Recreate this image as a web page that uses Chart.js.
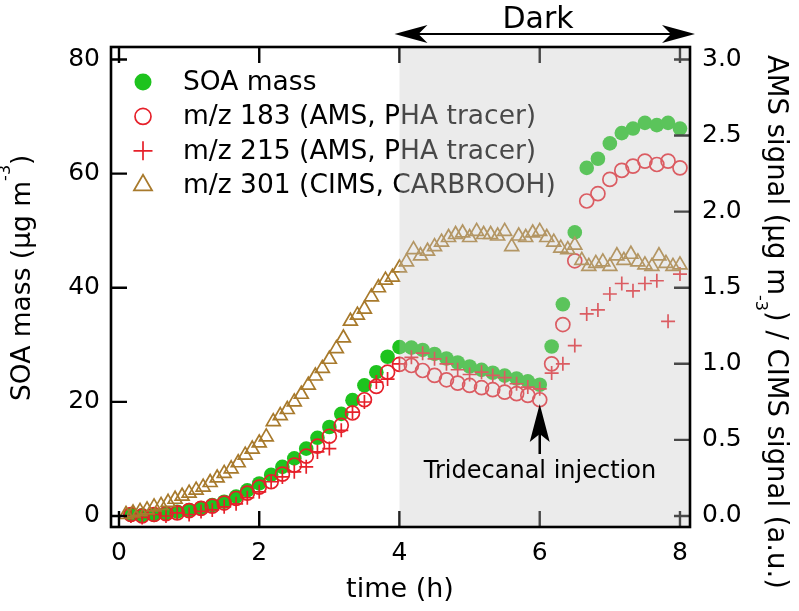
<!DOCTYPE html>
<html><head><meta charset="utf-8">
<script src="https://cdn.jsdelivr.net/npm/chart.js@4/dist/chart.umd.min.js"></script>
<style>html,body{margin:0;padding:0;background:#fff}canvas{display:block}</style>
</head><body>
<canvas id="c" width="799" height="611"></canvas>
<script>
// ---- data ----
const amsTimes = [0.17,0.33,0.5,0.67,0.83,1.0,1.17,1.33,1.5,1.67,1.83,2.0,2.17,2.33,2.5,2.67,2.83,3.0,3.17,3.33,3.5,3.67,3.83,4.0,4.17,4.33,4.5,4.67,4.83,5.0,5.17,5.33,5.5,5.67,5.83,6.0,6.17,6.33,6.5,6.67,6.83,7.0,7.17,7.33,7.5,7.67,7.83,8.0];
const soaMass = [0.2,0.1,0.2,0.5,0.75,1.05,1.4,1.9,2.5,3.4,4.5,5.7,7.2,8.6,10.1,11.8,13.7,15.6,17.9,20.3,22.9,25.2,27.9,29.6,29.5,29.1,28.4,27.6,26.9,26.2,25.6,25.1,24.6,24.1,23.6,23.0,29.7,37.1,49.7,61.0,62.6,65.3,67.1,67.9,68.9,68.5,68.9,67.9];
const mz183 = [0.01,0.0,0.01,0.015,0.02,0.035,0.05,0.065,0.085,0.115,0.15,0.19,0.225,0.275,0.334,0.393,0.459,0.524,0.596,0.677,0.764,0.852,0.945,0.996,0.989,0.956,0.924,0.895,0.873,0.858,0.843,0.830,0.814,0.804,0.793,0.764,1.0,1.258,1.677,2.07,2.118,2.212,2.271,2.299,2.332,2.31,2.332,2.288];
const mz215 = [0.0,-0.01,0.01,0.0,0.02,0.01,0.03,0.04,0.06,0.08,0.12,0.159,0.225,0.257,0.29,0.323,0.421,0.443,0.563,0.683,0.749,0.88,0.90,1.0,1.043,1.07,1.033,1.0,0.961,0.93,0.945,0.924,0.909,0.869,0.847,0.836,0.939,1.0,1.12,1.328,1.354,1.459,1.528,1.48,1.528,1.546,1.279,1.59];
const cimsTimes = [0.1,0.2,0.3,0.4,0.5,0.6,0.7,0.8,0.9,1.0,1.1,1.2,1.3,1.4,1.5,1.6,1.7,1.8,1.9,2.0,2.1,2.2,2.3,2.4,2.5,2.6,2.7,2.8,2.9,3.0,3.1,3.2,3.3,3.4,3.5,3.6,3.7,3.8,3.9,4.0,4.1,4.2,4.3,4.4,4.5,4.6,4.7,4.8,4.9,5.0,5.1,5.2,5.3,5.4,5.5,5.6,5.7,5.8,5.9,6.0,6.1,6.2,6.3,6.4,6.5,6.6,6.7,6.8,6.9,7.0,7.1,7.2,7.3,7.4,7.5,7.6,7.7,7.8,7.9,8.0];
const mz301 = [0.01,0.02,0.03,0.04,0.06,0.07,0.09,0.11,0.13,0.15,0.17,0.19,0.22,0.25,0.28,0.31,0.35,0.40,0.44,0.48,0.52,0.62,0.66,0.70,0.75,0.80,0.86,0.92,0.97,1.03,1.10,1.17,1.28,1.32,1.36,1.44,1.50,1.55,1.57,1.63,1.67,1.75,1.71,1.74,1.77,1.80,1.83,1.85,1.86,1.83,1.87,1.85,1.85,1.84,1.87,1.77,1.84,1.83,1.86,1.87,1.83,1.80,1.76,1.75,1.78,1.68,1.64,1.66,1.67,1.64,1.71,1.68,1.72,1.67,1.65,1.64,1.71,1.66,1.64,1.65];
const seriesNames = ['SOA mass','m/z 183 (AMS, PHA tracer)','m/z 215 (AMS, PHA tracer)','m/z 301 (CIMS, CARBROOH)'];
const xTicks = [0,2,4,6,8];
const yLeftTicks = [0,20,40,60,80];
const yRightTicks = [0,0.5,1.0,1.5,2.0,2.5,3.0];
const darkStart = 4;
const injectionTime = 6;
const darkLabel = 'Dark';
const injectionLabel = 'Tridecanal injection';
const xTitle = 'time (h)';

// ---- styles ----
const FONT = "'DejaVu Sans', 'Liberation Sans', Arial, sans-serif";
const GREEN = '#1ec31e', RED = '#e6202a', BROWN = '#a87a2c';

function pts(xs, ys) { return xs.map((x, i) => ({x: x, y: ys[i]})); }

function marker(ctx, kind, x, y, r, color) {
  ctx.save();
  ctx.lineWidth = 1.7;
  ctx.strokeStyle = color; ctx.fillStyle = color;
  ctx.beginPath();
  if (kind === 'dot') { ctx.arc(x, y, r, 0, Math.PI * 2); ctx.fill(); }
  else if (kind === 'circle') { ctx.arc(x, y, r, 0, Math.PI * 2); ctx.stroke(); }
  else if (kind === 'cross') { ctx.moveTo(x - r, y); ctx.lineTo(x + r, y); ctx.moveTo(x, y - r); ctx.lineTo(x, y + r); ctx.stroke(); }
  else if (kind === 'tri') {
    for (let k = 0; k < 3; k++) {
      const a = k * 2 * Math.PI / 3;
      const px = x + Math.sin(a) * r, py = y - Math.cos(a) * r;
      if (k === 0) ctx.moveTo(px, py); else ctx.lineTo(px, py);
    }
    ctx.closePath(); ctx.stroke();
  }
  ctx.restore();
}

function rich(ctx, parts) {
  let x = 0;
  parts.forEach(p => {
    ctx.font = p.size + 'px ' + FONT;
    ctx.fillText(p.t, x, p.dy || 0);
    x += ctx.measureText(p.t).width;
  });
}

const decor = {
  id: 'decor',
  afterDatasetsDraw(chart) {
    const ctx = chart.ctx, a = chart.chartArea;
    const xs = chart.scales.x, yl = chart.scales.y, yr = chart.scales.y2;
    ctx.save();
    // inner tick marks on all four sides
    const TL = 16;
    ctx.strokeStyle = '#000'; ctx.lineWidth = 2.4;
    ctx.beginPath();
    xTicks.forEach(v => {
      const px = xs.getPixelForValue(v);
      ctx.moveTo(px, a.bottom); ctx.lineTo(px, a.bottom - TL);
      ctx.moveTo(px, a.top); ctx.lineTo(px, a.top + TL);
    });
    yLeftTicks.forEach(v => { const py = yl.getPixelForValue(v); ctx.moveTo(a.left, py); ctx.lineTo(a.left + TL, py); });
    yRightTicks.forEach(v => { const py = yr.getPixelForValue(v); ctx.moveTo(a.right, py); ctx.lineTo(a.right - TL, py); });
    ctx.stroke();

    // legend inside plot
    const kinds = [['dot', 8.5, GREEN], ['circle', 8, RED], ['cross', 9.5, RED], ['tri', 10.5, BROWN]];
    ctx.font = '26.5px ' + FONT;
    ctx.textBaseline = 'middle';
    ctx.textAlign = 'left';
    kinds.forEach((k, i) => {
      const yy = 82 + i * 34.4;
      marker(ctx, k[0], 143, yy, k[1], k[2]);
      ctx.fillStyle = '#000';
      ctx.fillText(seriesNames[i], 183, yy + 1);
    });

    // dark period shading (drawn over marks, as in the reference)
    const x4 = xs.getPixelForValue(darkStart);
    ctx.fillStyle = 'rgba(200,200,200,0.36)';
    ctx.fillRect(x4, a.top, a.right - x4, a.bottom - a.top);

    // frame
    ctx.strokeStyle = '#000'; ctx.lineWidth = 2.6;
    ctx.strokeRect(a.left, a.top, a.right - a.left, a.bottom - a.top);

    // "Dark" double arrow
    const yA = 34, xL = x4 - 5, xR = a.right + 5;
    ctx.fillStyle = '#000'; ctx.strokeStyle = '#000'; ctx.lineWidth = 2;
    ctx.beginPath(); ctx.moveTo(xL + 10, yA); ctx.lineTo(xR - 10, yA); ctx.stroke();
    ctx.beginPath(); ctx.moveTo(xL, yA); ctx.lineTo(xL + 33, yA - 9); ctx.lineTo(xL + 24, yA); ctx.lineTo(xL + 33, yA + 9); ctx.closePath(); ctx.fill();
    ctx.beginPath(); ctx.moveTo(xR, yA); ctx.lineTo(xR - 33, yA - 9); ctx.lineTo(xR - 24, yA); ctx.lineTo(xR - 33, yA + 9); ctx.closePath(); ctx.fill();
    ctx.font = '30px ' + FONT; ctx.textAlign = 'center'; ctx.textBaseline = 'alphabetic';
    ctx.fillText(darkLabel, 538, 28);

    // injection arrow + label
    const xi = xs.getPixelForValue(injectionTime);
    const yTip = 404;
    ctx.beginPath(); ctx.moveTo(xi, yTip); ctx.lineTo(xi + 10, yTip + 38); ctx.lineTo(xi, yTip + 30); ctx.lineTo(xi - 10, yTip + 38); ctx.closePath(); ctx.fill();
    ctx.lineWidth = 2.5;
    ctx.beginPath(); ctx.moveTo(xi, yTip + 28); ctx.lineTo(xi, yTip + 50); ctx.stroke();
    ctx.font = '24px ' + FONT;
    ctx.fillText(injectionLabel, 540, 478);

    // axis titles
    ctx.fillStyle = '#000'; ctx.textAlign = 'left'; ctx.textBaseline = 'alphabetic';
    ctx.save();
    ctx.translate(30, 401); ctx.rotate(-Math.PI / 2);
    rich(ctx, [{t: 'SOA mass (µg m', size: 26.5}, {t: '-3', size: 16, dy: -20}, {t: ')', size: 26.5}]);
    ctx.restore();
    ctx.save();
    ctx.translate(768, 55); ctx.rotate(Math.PI / 2);
    rich(ctx, [{t: 'AMS signal (µg m', size: 27.5}, {t: '-3', size: 16, dy: 12}, {t: ') / CIMS signal (a.u.)', size: 27.5}]);
    ctx.restore();
    ctx.font = '27px ' + FONT; ctx.textAlign = 'center';
    ctx.fillText(xTitle, 400, 597);
    ctx.restore();
  }
};

const tickFont = {family: FONT, size: 25};
const setTicks = arr => s => { s.ticks = arr.map(v => ({value: v})); };

new Chart(document.getElementById('c'), {
  type: 'scatter',
  data: {
    datasets: [
      {label: seriesNames[3], data: pts(cimsTimes, mz301), yAxisID: 'y2', order: 1, pointStyle: 'triangle', pointRadius: 8, borderColor: BROWN, backgroundColor: 'rgba(0,0,0,0)', borderWidth: 1.7},
      {label: seriesNames[2], data: pts(amsTimes, mz215), yAxisID: 'y2', order: 2, pointStyle: 'cross', pointRadius: 7, borderColor: RED, backgroundColor: RED, borderWidth: 1.7},
      {label: seriesNames[1], data: pts(amsTimes, mz183), yAxisID: 'y2', order: 3, pointStyle: 'circle', pointRadius: 7, borderColor: RED, backgroundColor: 'rgba(0,0,0,0)', borderWidth: 1.7},
      {label: seriesNames[0], data: pts(amsTimes, soaMass), yAxisID: 'y', order: 4, pointStyle: 'circle', pointRadius: 7.3, borderColor: GREEN, backgroundColor: GREEN, borderWidth: 0}
    ]
  },
  options: {
    responsive: false, animation: false, devicePixelRatio: 1,
    layout: {padding: {top: 47, left: 0, right: 0, bottom: 0}},
    plugins: {legend: {display: false}, tooltip: {enabled: false}},
    elements: {point: {hoverRadius: 7}},
    scales: {
      x: {type: 'linear', position: 'bottom', min: -0.114, max: 8.143,
          afterBuildTicks: setTicks(xTicks), afterFit: s => { s.height = 84; },
          grid: {display: false, drawTicks: false}, border: {display: false},
          ticks: {font: tickFont, color: '#000', padding: 11, maxRotation: 0, autoSkip: false}},
      y: {type: 'linear', position: 'left', min: -1.93, max: 82.19,
          afterBuildTicks: setTicks(yLeftTicks), afterFit: s => { s.width = 111; },
          grid: {display: false, drawTicks: false}, border: {display: false},
          ticks: {font: tickFont, color: '#000', padding: 11}},
      y2: {type: 'linear', position: 'right', min: -0.0723, max: 3.082,
          afterBuildTicks: setTicks(yRightTicks), afterFit: s => { s.width = 109; },
          grid: {display: false, drawTicks: false}, border: {display: false},
          ticks: {font: tickFont, color: '#000', padding: 12, callback: v => Number(v).toFixed(1)}}
    }
  },
  plugins: [decor]
});
</script>
</body></html>
